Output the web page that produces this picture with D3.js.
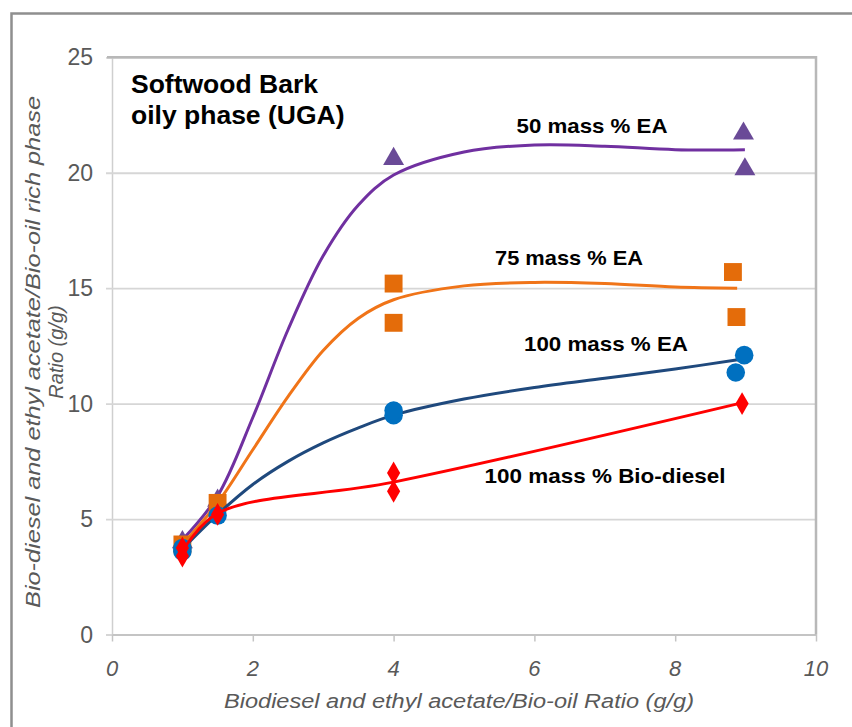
<!DOCTYPE html>
<html>
<head>
<meta charset="utf-8">
<script src="https://cdn.jsdelivr.net/npm/d3@7"></script>
<style>
  html, body { margin: 0; padding: 0; background: #fff; }
  svg { display: block; font-family: "Liberation Sans", Arial, sans-serif; }
</style>
</head>
<body>
<svg id="chart" width="852" height="727"></svg>
<script>
// Measured points: [solvent/bio-oil ratio, extract ratio]
const ea50Points  = [[1, 4.0], [1.5, 5.8], [4, 20.6], [8.97, 21.7], [8.99, 20.15]];
const ea75Points  = [[1, 3.9], [1.5, 5.7], [4, 15.2], [4, 13.5], [8.82, 15.7], [8.87, 13.75]];
const ea100Points = [[1, 3.6], [1, 3.75], [1.5, 5.15], [4, 9.5], [4, 9.7], [8.98, 12.1], [8.86, 11.35]];
const bd100Points = [[1, 3.4], [1, 3.75], [1.5, 5.2], [4, 7.0], [4, 6.2], [8.95, 10.0]];

// Fitted trend curves for each solvent
const ea50Fit  = [[1, 4.1], [1.5, 6.0], [2, 9.4], [2.5, 13.2], [3, 16.4], [3.5, 18.6], [4, 19.9], [5, 20.9], [6, 21.2], [7, 21.15], [8, 21.0], [8.99, 21.0]];
const ea75Fit  = [[1, 3.9], [1.5, 5.7], [2, 8.0], [2.5, 10.3], [3, 12.3], [3.5, 13.7], [4, 14.5], [5, 15.1], [6, 15.25], [7, 15.2], [8, 15.05], [8.88, 15.0]];
const ea100Fit = [[1, 3.7], [1.5, 5.2], [2, 6.5], [2.5, 7.5], [3, 8.3], [3.5, 8.95], [4, 9.5], [5, 10.2], [6, 10.7], [7, 11.1], [8, 11.5], [8.89, 11.9]];
const bd100Fit = [[1, 3.6], [1.5, 5.25], [4, 6.6], [8.9, 10.0]];

const seriesNames = ["50 mass % EA", "75 mass % EA", "100 mass % EA", "100 mass % Bio-diesel"];
const xTicks = [0, 2, 4, 6, 8, 10];
const yTicks = [0, 5, 10, 15, 20, 25];

const titleLines = ["Softwood Bark", "oily phase (UGA)"];
const xTitle = "Biodiesel and ethyl acetate/Bio-oil Ratio (g/g)";
const yTitleLines = ["Bio-diesel and ethyl acetate/Bio-oil rich phase", "Ratio (g/g)"];

const svg = d3.select("#chart");

// outer frame of the figure
svg.append("rect")
  .attr("x", 11.5).attr("y", 13.5)
  .attr("width", 900).attr("height", 800)
  .attr("fill", "none").attr("stroke", "#8f8f8f").attr("stroke-width", 2.5);

const plot = { left: 112, right: 816, top: 57.3, bottom: 634.5 };

const x = d3.scaleLinear().domain([0, 10]).range([plot.left, plot.right]);
const y = d3.scaleLinear().domain([0, 25]).range([plot.bottom, plot.top]);

// horizontal gridlines with outside tick marks
const yAxis = d3.axisLeft(y).tickValues(yTicks).tickSize(-(plot.right - plot.left)).tickSizeOuter(0).tickFormat("");
const gy = svg.append("g").attr("transform", `translate(${plot.left},0)`).call(yAxis);
gy.select(".domain").attr("stroke", "#cfcfcf").attr("stroke-width", 1.5);
gy.selectAll(".tick line").attr("stroke", "#d6d6d6").attr("stroke-width", 1.8).attr("x1", -6);

// y tick labels
svg.append("g").selectAll("text").data(yTicks).join("text")
  .attr("x", 93).attr("y", d => y(d))
  .attr("dy", "0.35em")
  .attr("text-anchor", "end")
  .attr("font-size", 23)
  .attr("fill", "#595959")
  .text(d => d);

// x axis
const xAxis = d3.axisBottom(x).tickValues(xTicks).tickSize(7).tickSizeOuter(0).tickFormat("");
const gx = svg.append("g").attr("transform", `translate(0,${plot.bottom})`).call(xAxis);
gx.select(".domain").attr("stroke", "#c4c4c4").attr("stroke-width", 2);
gx.selectAll(".tick line").attr("stroke", "#c4c4c4").attr("stroke-width", 1.5);

svg.append("g").selectAll("text").data(xTicks).join("text")
  .attr("x", d => x(d)).attr("y", 676)
  .attr("text-anchor", "middle")
  .attr("font-size", 22)
  .attr("font-style", "italic")
  .attr("fill", "#595959")
  .text(d => d);

// plot area top and right border
svg.append("path")
  .attr("d", `M${plot.left - 5},${plot.top}H${plot.right}V${plot.bottom}`)
  .attr("fill", "none").attr("stroke", "#b8b8b8").attr("stroke-width", 2.5);

// axis titles
svg.append("text")
  .attr("x", 459).attr("y", 708)
  .attr("text-anchor", "middle")
  .attr("font-size", 20).attr("font-style", "italic")
  .attr("fill", "#595959")
  .attr("textLength", 470).attr("lengthAdjust", "spacingAndGlyphs")
  .text(xTitle);

const yTitle = svg.append("g").attr("transform", "translate(0,352) rotate(-90)");
yTitle.append("text")
  .attr("x", 0).attr("y", 40)
  .attr("text-anchor", "middle")
  .attr("font-size", 20).attr("font-style", "italic")
  .attr("fill", "#595959")
  .attr("textLength", 512).attr("lengthAdjust", "spacingAndGlyphs")
  .text(yTitleLines[0]);
yTitle.append("text")
  .attr("x", 0).attr("y", 63)
  .attr("text-anchor", "middle")
  .attr("font-size", 20).attr("font-style", "italic")
  .attr("fill", "#595959")
  .text(yTitleLines[1]);

// chart title inside the plot
svg.append("g").selectAll("text").data(titleLines).join("text")
  .attr("x", 131).attr("y", (d, i) => 93 + i * 31)
  .attr("font-size", 26.5).attr("font-weight", "bold")
  .attr("fill", "#000")
  .text(d => d);

const line = d3.line().x(d => x(d[0])).y(d => y(d[1])).curve(d3.curveCatmullRom.alpha(0.5));

const series = [
  { name: seriesNames[0], fit: ea50Fit,  pts: ea50Points,  line: "#7030A0", mark: "#6A4A97", sym: d3.symbolTriangle, size: 190 },
  { name: seriesNames[1], fit: ea75Fit,  pts: ea75Points,  line: "#F07418", mark: "#E46C0A", sym: d3.symbolSquare,   size: 320 },
  { name: seriesNames[2], fit: ea100Fit, pts: ea100Points, line: "#1F497D", mark: "#0070C0", sym: d3.symbolCircle,   size: 270 },
  { name: seriesNames[3], fit: bd100Fit, pts: bd100Points, line: "#FF0000", mark: "#FF0000", sym: d3.symbolDiamond,  size: 150 }
];

series.forEach(s => {
  const g = svg.append("g");
  g.append("path")
    .datum(s.fit)
    .attr("d", line)
    .attr("fill", "none")
    .attr("stroke", s.line)
    .attr("stroke-width", 3);
  g.selectAll("path.pt").data(s.pts).join("path")
    .attr("class", "pt")
    .attr("transform", d => `translate(${x(d[0])},${y(d[1])})`)
    .attr("d", d3.symbol().type(s.sym).size(s.size))
    .attr("fill", s.mark);
});

// series labels
const labels = [
  { text: seriesNames[0], cx: 592, cy: 126, w: 151 },
  { text: seriesNames[1], cx: 569, cy: 258, w: 148 },
  { text: seriesNames[2], cx: 606, cy: 344, w: 164 },
  { text: seriesNames[3], cx: 605, cy: 476, w: 241 }
];
svg.append("g").selectAll("text").data(labels).join("text")
  .attr("x", d => d.cx).attr("y", d => d.cy)
  .attr("dy", "0.35em")
  .attr("text-anchor", "middle")
  .attr("font-size", 21).attr("font-weight", "bold")
  .attr("fill", "#000")
  .attr("textLength", d => d.w).attr("lengthAdjust", "spacingAndGlyphs")
  .text(d => d.text);
</script>
</body>
</html>
